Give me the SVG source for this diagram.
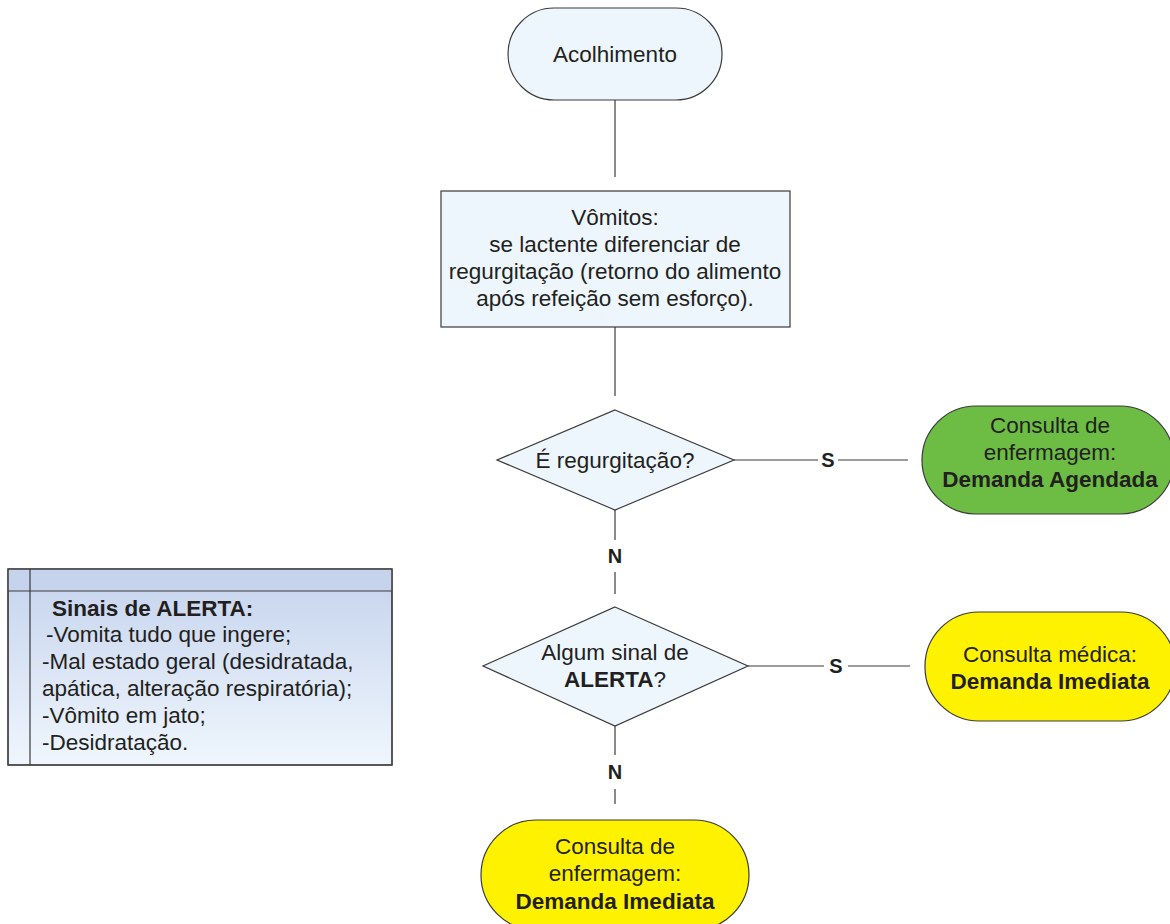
<svg xmlns="http://www.w3.org/2000/svg" width="1170" height="924" viewBox="0 0 1170 924">
  <defs>
    <linearGradient id="panelFill" x1="0" y1="0" x2="0" y2="1">
      <stop offset="0" stop-color="#c5d3ed"/>
      <stop offset="1" stop-color="#eff6fd"/>
    </linearGradient>
    <style>
      .shape { stroke: #3a3a3a; stroke-width: 1.2; }
      .light { fill: #eef6fd; }
      .green { fill: #6dbd45; }
      .yellow { fill: #fff200; }
      .t { font-family: "Liberation Sans", Arial, sans-serif; font-size: 22.5px; fill: #231f20; text-anchor: middle; }
      .b { font-weight: bold; }
      .lbl { font-family: "Liberation Sans", Arial, sans-serif; font-size: 20px; font-weight: bold; fill: #231f20; text-anchor: middle; }
      .tl { font-family: "Liberation Sans", Arial, sans-serif; font-size: 22.5px; fill: #231f20; }
      .conn { stroke: #3a3a3a; stroke-width: 1.2; fill: none; }
    </style>
  </defs>
  <rect width="1170" height="924" fill="#ffffff"/>

  <!-- connectors -->
  <g id="connectors">
    <line class="conn" x1="615" y1="100" x2="615" y2="177"/>
    <line class="conn" x1="615" y1="327" x2="615" y2="396"/>
    <line class="conn" x1="734" y1="460" x2="818" y2="460"/>
    <line class="conn" x1="838" y1="460" x2="908" y2="460"/>
    <text class="lbl" x="828" y="467">S</text>
    <line class="conn" x1="615" y1="510" x2="615" y2="540"/>
    <text class="lbl" x="615" y="563">N</text>
    <line class="conn" x1="615" y1="572" x2="615" y2="594"/>
    <line class="conn" x1="748" y1="666" x2="824" y2="666"/>
    <line class="conn" x1="848" y1="666" x2="910" y2="666"/>
    <text class="lbl" x="836" y="673">S</text>
    <line class="conn" x1="615" y1="726" x2="615" y2="755"/>
    <text class="lbl" x="615" y="779">N</text>
    <line class="conn" x1="615" y1="789" x2="615" y2="804"/>
  </g>

  <g id="acolhimento">
    <rect class="shape light" x="508" y="8" width="214" height="92" rx="46" ry="46"/>
    <text class="t" x="615" y="62">Acolhimento</text>
  </g>

  <g id="vomitos">
    <rect class="shape light" x="441" y="191" width="349" height="136"/>
    <text class="t" x="615" y="225">Vômitos:</text>
    <text class="t" x="615" y="252">se lactente diferenciar de</text>
    <text class="t" x="615" y="279">regurgitação (retorno do alimento</text>
    <text class="t" x="615" y="306">após refeição sem esforço).</text>
  </g>

  <g id="regurgitacao">
    <polygon class="shape light" points="615,410 734,460 615,510 497,460"/>
    <text class="t" x="615" y="468">É regurgitação?</text>
  </g>

  <g id="agendada">
    <rect class="shape green" x="922" y="406" width="252" height="108" rx="54" ry="54"/>
    <text class="t" x="1050" y="433">Consulta de</text>
    <text class="t" x="1050" y="460">enfermagem:</text>
    <text class="t b" x="1050" y="487">Demanda Agendada</text>
  </g>

  <g id="alerta">
    <polygon class="shape light" points="615,607 748,666 615,726 483,666"/>
    <text class="t" x="615" y="660">Algum sinal de</text>
    <text class="t" x="615" y="687"><tspan class="b">ALERTA</tspan>?</text>
  </g>

  <g id="medica">
    <rect class="shape yellow" x="925" y="612" width="250" height="109" rx="54" ry="54"/>
    <text class="t" x="1050" y="662">Consulta médica:</text>
    <text class="t b" x="1050" y="689">Demanda Imediata</text>
  </g>

  <g id="imediata">
    <rect class="shape yellow" x="481" y="820" width="268" height="110" rx="55" ry="55"/>
    <text class="t" x="615" y="854">Consulta de</text>
    <text class="t" x="615" y="881">enfermagem:</text>
    <text class="t b" x="615" y="909">Demanda Imediata</text>
  </g>

  <g id="sinais">
    <rect class="shape" x="8" y="569" width="384" height="196" fill="url(#panelFill)"/>
    <rect x="8.6" y="569.6" width="382.8" height="21" fill="#c5d3ec"/>
    <line class="conn" x1="8" y1="591" x2="392" y2="591"/>
    <line class="conn" x1="30" y1="569" x2="30" y2="765"/>
    <rect class="shape" x="8" y="569" width="384" height="196" fill="none"/>
    <text class="tl b" x="52" y="616">Sinais de ALERTA:</text>
    <text class="tl" x="46" y="642">-Vomita tudo que ingere;</text>
    <text class="tl" x="42" y="669">-Mal estado geral (desidratada,</text>
    <text class="tl" x="42" y="696">apática, alteração respiratória);</text>
    <text class="tl" x="42" y="723">-Vômito em jato;</text>
    <text class="tl" x="42" y="750">-Desidratação.</text>
  </g>
</svg>
